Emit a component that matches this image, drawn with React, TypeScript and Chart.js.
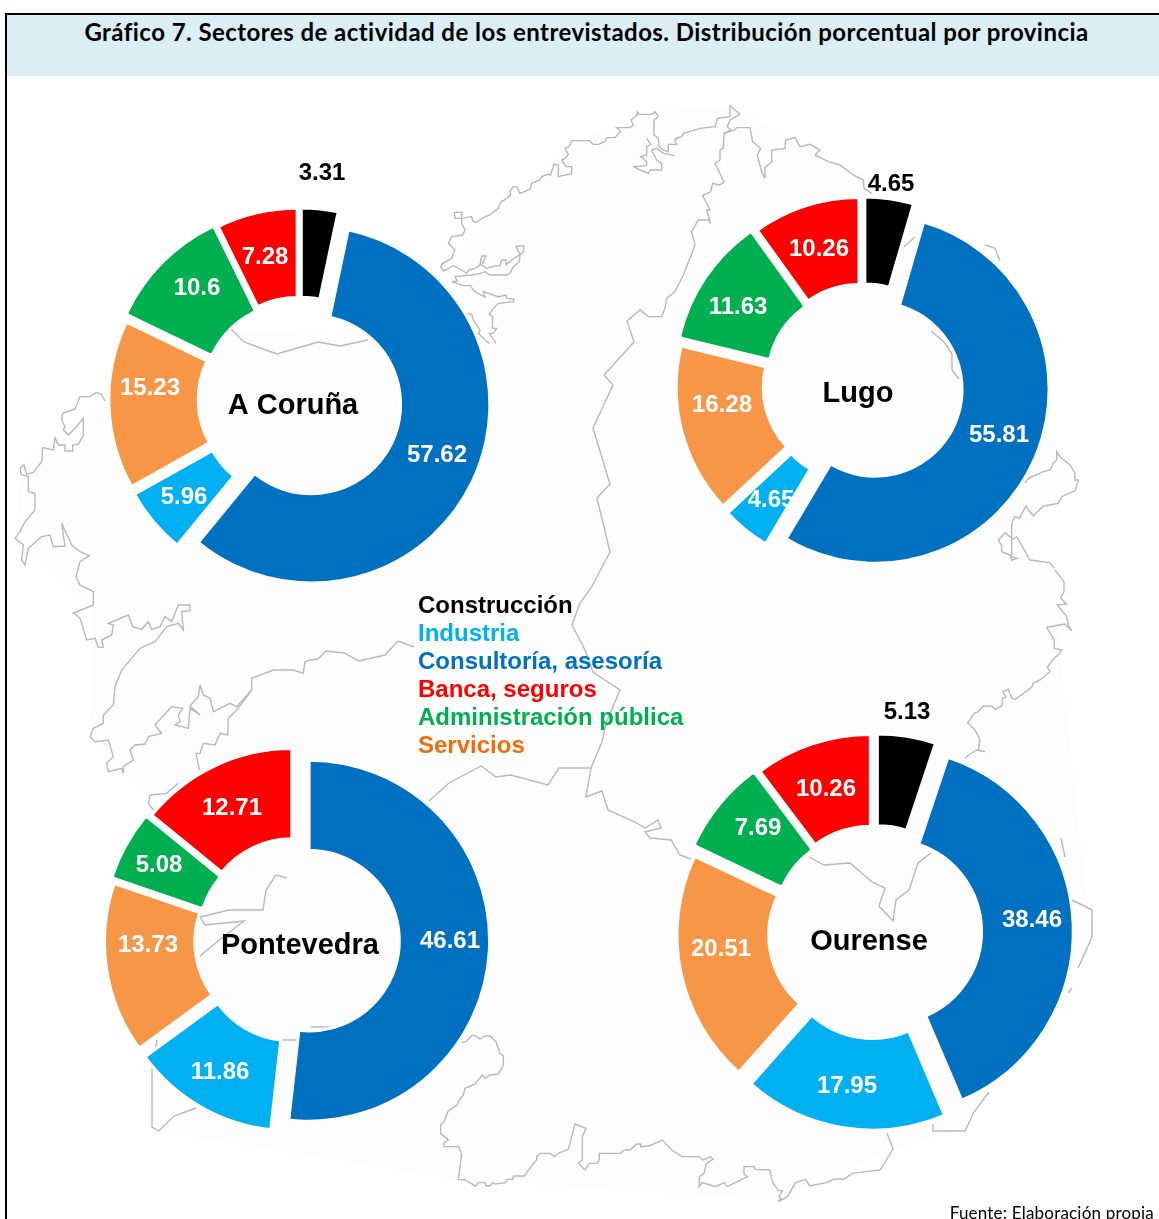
import React, { useEffect, useRef } from "react";
import { Chart, registerables } from "chart.js";

Chart.register(...registerables);

const categories = ["Construcción", "Consultoría, asesoría", "Industria", "Servicios", "Administración pública", "Banca, seguros"];
const coruna = [3.31, 57.62, 5.96, 15.23, 10.6, 7.28];
const lugo = [4.65, 55.81, 4.65, 16.28, 11.63, 10.26];
const pontevedra = [0, 46.61, 11.86, 13.73, 5.08, 12.71];
const ourense = [5.13, 38.46, 17.95, 20.51, 7.69, 10.26];

const sliceColors = ["#000000", "#0070C0", "#00B0F0", "#F79646", "#00B050", "#FF0000"];
const sliceBorders = ["#FFFFFF", "#FFFFFF", "#FFFFFF", "#FFFFFF", "#00B050", "#FFFFFF"];
const labelColors = ["#000000", "#FFFFFF", "#FFFFFF", "#FFFFFF", "#FFFFFF", "#FFFFFF"];
const legendOrder = [
  ["Construcción", "#000000"],
  ["Industria", "#00B0F0"],
  ["Consultoría, asesoría", "#0070C0"],
  ["Banca, seguros", "#FF0000"],
  ["Administración pública", "#00B050"],
  ["Servicios", "#F36C0A"],
];

const BOX = 560;
const panels = [
  { name: "A Coruña", values: coruna, cx: 300, cy: 399, r: 178.5, shift: 12.6, title: [293, 406],
    labels: [[322, 173], [437, 455], [184, 497], [150, 388], [197, 288], [265, 257]] },
  { name: "Lugo", values: lugo, cx: 863, cy: 384, r: 174, shift: 13.2, title: [858, 394],
    labels: [[891, 184], [999, 435], [771, 500], [722, 405], [738, 307], [819, 249]] },
  { name: "Pontevedra", values: pontevedra, cx: 297, cy: 940, r: 180.5, shift: 12.1, title: [300, 946],
    labels: [[0, 0], [450, 941], [220, 1072], [148, 945], [159, 865], [232, 808]] },
  { name: "Ourense", values: ourense, cx: 875, cy: 932, r: 183.5, shift: 14.8, title: [869, 942],
    labels: [[907, 712], [1032, 920], [847, 1086], [721, 949], [758, 828], [826, 789]] },
];

// Decorative background: outline of the provinces, traced by eye from 3x crops.
const zoomed = (ox: number, oy: number, pts: number[][]) => pts.map(([x, y]) => [ox + x / 3, oy + y / 3]);

const mapLines: number[][][] = [
  zoomed(430, 95, [[685,65],[675,50],[665,58],[625,58],[622,48],[620,62],[603,75],[610,90],[600,98],[560,98],[572,108],[555,128],[530,128],[525,140],[505,148],[490,148],[478,137],[425,137],[417,155],[405,160],[415,178],[405,190],[395,195],[408,215],[425,215],[425,235],[385,245],[385,210],[372,207],[362,240],[352,238],[335,245],[330,255],[305,265],[300,283],[270,295],[260,275],[250,275],[240,288],[242,300],[230,310],[212,322],[205,340],[180,360],[160,368],[138,382],[128,378],[125,365],[95,370],[75,370],[73,352],[95,352],[95,385],[105,405],[98,420],[65,425],[55,445],[75,465],[65,490],[38,505],[32,515],[40,528],[70,512],[95,525],[110,535],[115,525],[135,520],[150,510],[155,483],[168,483],[155,510],[170,520],[195,513],[210,512],[215,495],[228,495],[228,510],[245,495],[270,478],[258,455],[282,452],[280,472],[270,478],[268,500],[250,515],[240,535],[230,540],[180,540],[165,530],[150,535],[125,540],[75,545],[82,558],[65,560],[100,572],[120,572],[135,590],[165,607],[160,590],[205,605],[228,600],[230,610],[252,612],[250,620],[205,625],[190,640],[178,658],[188,665],[187,700],[200,700],[190,715],[178,715],[198,745]]),
  zoomed(430, 95, [[112,657],[125,658],[130,675],[150,705],[145,715],[165,735],[178,745]]),
  zoomed(430, 95, [[685,65],[672,75],[672,120],[685,130],[687,155],[700,165],[715,170],[715,148],[740,148],[735,135],[745,128],[750,128]]),
  zoomed(430, 95, [[650,130],[662,148],[650,155],[650,180],[632,185],[650,200],[650,212],[612,215],[630,225],[655,235],[660,225],[670,225],[695,225],[695,205],[680,195],[665,165],[680,160],[700,175],[735,182]]),
  zoomed(640, 95, [[105,130],[125,125],[130,115],[180,100],[225,95],[232,70],[270,65],[270,32],[300,58],[270,75],[262,95],[272,105],[252,115],[250,160],[240,165],[240,195],[225,205],[240,235],[252,262],[238,270],[218,265],[212,290],[188,302],[210,345],[200,345],[212,385],[205,375],[175,375],[155,410],[165,450],[150,490],[130,540],[105,590],[80,610],[75,640],[65,665],[25,665],[0,645]]).concat([[627,321],[634,342],[604,375],[613,385],[593,428],[610,484],[597,498],[610,552],[591,588],[580,603],[572,625],[585,650],[593,672],[620,690],[606,723],[602,742],[591,768],[580,768],[559,768],[548,785],[511,775],[496,777],[481,766],[449,783],[429,801]]),
  zoomed(640, 95, [[252,115],[285,105],[290,98],[330,98],[338,140],[362,160],[352,180],[365,230],[375,250],[375,218],[395,200],[395,165],[435,160],[437,135],[465,128],[480,155],[510,148],[540,165],[525,180],[565,200],[600,210],[640,240],[670,255],[672,280],[695,295]]),
  [[904,247],[915,237]],
  [[985,245],[995,248],[1000,261]],
  zoomed(960, 440, [[195,130],[205,115],[250,95],[270,90],[280,68],[290,60],[290,35],[300,50],[330,75],[345,100],[345,120],[355,120],[345,152],[305,170],[295,190],[250,198],[220,228],[205,210],[198,198],[178,235],[165,230],[155,250],[155,295],[135,278],[115,300],[125,318],[125,335],[150,345],[155,360],[170,355],[155,350],[155,300],[170,290],[190,325],[210,360],[270,368],[283,385]]),
  zoomed(920, 570, [[405,0],[432,35],[432,65],[422,85],[440,102],[412,105],[440,140],[445,165],[455,183],[435,162],[380,172],[402,210],[403,235],[425,240],[415,255],[405,262],[382,292],[390,305],[360,330],[340,340],[335,352],[285,388],[275,385],[265,358],[248,365],[258,380],[248,385],[245,408],[225,418],[215,408],[190,408],[175,425],[163,430],[143,458],[165,480],[180,510],[175,540],[195,545],[170,540],[150,552],[135,565]]),
  [[1061,838],[1065,857]],
  [[1072,900],[1092,910],[1092,937],[1078,968]],
  [[1068,993],[1072,988]],
  [[989,1092],[974,1112],[965,1131],[933,1131],[933,1124]],
  zoomed(430, 1000, [[95,127],[108,125],[125,107],[135,107],[150,117],[165,108],[180,108],[198,125],[210,160],[220,168],[220,195],[205,222],[180,225],[165,235],[157,225],[135,252],[105,265],[100,285],[85,305],[82,315],[55,332],[42,365],[32,375],[32,400],[55,420],[42,428],[42,440],[85,440],[95,462],[85,538],[105,540],[137,558],[145,548],[165,548],[168,558],[180,558],[188,548],[195,552],[228,548],[230,538],[248,538],[250,528],[283,528],[310,490],[320,480],[320,470],[332,460],[360,460],[373,470],[385,460],[415,448],[435,372],[468,385],[457,410],[457,480],[445,490],[465,510],[478,490],[500,490],[508,480],[508,460],[572,460],[582,450],[600,450],[620,432],[632,432],[632,440],[657,438]]),
  zoomed(649, 1000, [[0,438],[40,420],[68,450],[100,470],[150,470],[162,480],[185,470],[192,478],[172,490],[165,520],[152,530],[150,560],[160,548],[200,560],[225,548],[235,560],[295,530],[285,522],[285,500],[315,500],[320,508],[362,510],[370,545],[388,572],[400,572],[390,590],[395,595],[388,605],[415,590],[430,565],[440,548],[470,538],[482,558],[532,548],[555,537],[585,537],[610,520],[650,515]]).concat([[880,1170],[893,1149],[887,1133]]),
  [[809,857],[824,865],[850,863],[872,882],[885,888],[879,906],[893,921],[896,900],[909,890],[918,863],[931,853]],
  [[591,768],[586,797],[602,791],[608,810],[635,822],[645,828],[658,820],[661,828],[645,832],[650,838],[671,840],[680,855],[691,859]],
  zoomed(0, 385, [[315,48],[305,30],[290,22],[270,35],[240,35],[225,72],[188,85],[185,105],[195,125],[190,135],[205,150],[225,130],[250,100],[250,150],[235,178],[218,180],[218,198],[195,198],[195,180],[175,180],[165,158],[160,195],[128,188],[125,230],[100,262],[80,268],[72,240],[62,248],[62,268],[85,275],[85,320],[105,325],[105,375],[75,410],[60,440],[45,460],[70,480],[65,525],[75,540],[85,490],[125,455],[150,450],[160,485],[195,483],[185,415],[215,480],[240,500],[268,512],[240,530],[228,575],[240,600],[280,620],[280,660],[218,685]]),
  zoomed(60, 590, [[40,68],[60,85],[80,150],[105,145],[115,172],[130,172],[125,150],[155,135],[160,105],[145,100],[205,75],[218,110],[245,118],[265,95],[275,118],[300,110],[315,80],[335,95],[355,45],[390,45],[390,62],[365,65],[370,120],[355,100],[320,110],[285,155],[240,175],[215,205],[185,240],[165,290],[160,345],[130,375],[130,400],[100,415],[90,440],[105,455],[145,450],[160,500],[140,520],[145,545],[185,535],[190,550],[190,530],[220,510],[210,480],[225,465],[255,462],[265,440],[305,430],[285,405],[335,350],[368,355],[355,375],[360,395],[345,405],[385,415],[390,355],[420,375],[390,348],[415,320],[420,285],[430,315],[450,325],[460,365],[510,340],[530,350],[575,300],[575,265],[640,240],[700,240],[730,250],[735,215],[750,210]]).concat([[318,659],[326,651],[344,653],[359,661],[385,655],[398,641],[414,647]]),
  zoomed(60, 590, [[575,300],[530,360],[505,385],[503,435],[480,430],[465,465],[430,460],[420,490],[408,490],[418,540]]),
  zoomed(60, 590, [[355,580],[320,610],[270,615],[265,640],[280,660]]),
  [[231,329],[244,342],[277,354],[318,342],[340,346],[368,340]],
  [[931,331],[944,342],[952,354],[952,370],[959,379]],
  [[287,878],[276,875],[266,890],[263,910],[229,910],[200,917],[205,925],[244,921],[218,941],[200,956]],
  [[281,1040],[296,1040]],
  [[311,1027],[333,1027]],
  [[157,1040],[152,1069],[152,1127],[159,1131],[174,1116],[196,1108]],
];

const mapFill = "M105,401 L20,465 L15,539 L92,610 L90,736 L122,773 L160,800 L150,1130 L460,1180 L780,1200 L890,1150 L960,1130 L1090,930 L1060,650 L1060,570 L1010,540 L1078,480 L1057,453 L1000,261 L870,190 L735,106 L640,112 L560,150 L440,268 L500,345 L230,330 Z";

function Panel({ p }: { p: (typeof panels)[number] }) {
  const ref = useRef<HTMLCanvasElement>(null);
  useEffect(() => {
    const left = p.cx - BOX / 2;
    const top = p.cy - BOX / 2;
    const chart = new Chart(ref.current!, {
      type: "doughnut",
      data: {
        labels: categories,
        datasets: [{
          data: p.values,
          backgroundColor: sliceColors,
          borderColor: sliceBorders,
          borderWidth: 3,
          borderJoinStyle: "round",
        }],
      },
      options: {
        animation: false,
        responsive: false,
        radius: p.r,
        cutout: "50%",
        plugins: { legend: { display: false }, tooltip: { enabled: false } },
      },
      plugins: [{
        id: "sliceText",
        afterDatasetsUpdate(c: any) {
          // Explode every slice by the same distance along its own mid-angle.
          c.getDatasetMeta(0).data.forEach((arc: any) => {
            const mid = (arc.startAngle + arc.endAngle) / 2;
            arc.x += Math.cos(mid) * p.shift;
            arc.y += Math.sin(mid) * p.shift;
          });
        },
        afterDatasetsDraw(c: any) {
          const ctx = c.ctx;
          ctx.save();
          ctx.textAlign = "center";
          ctx.textBaseline = "middle";
          ctx.font = 'bold 24px "Liberation Sans"';
          p.values.forEach((v, i) => {
            if (!v) return;
            ctx.fillStyle = labelColors[i];
            ctx.fillText(String(v), p.labels[i][0] - left, p.labels[i][1] - top);
          });
          ctx.fillStyle = "#000000";
          ctx.font = 'bold 29px "Liberation Sans"';
          ctx.fillText(p.name, p.title[0] - left, p.title[1] - top);
          ctx.restore();
        },
      }],
    } as any);
    return () => chart.destroy();
  }, [p]);
  return (
    <canvas
      ref={ref}
      width={BOX}
      height={BOX}
      style={{ position: "absolute", left: p.cx - BOX / 2, top: p.cy - BOX / 2, width: BOX, height: BOX }}
    />
  );
}

export default function App() {
  useEffect(() => {
    document.body.style.margin = "0";
  }, []);
  return (
    <div style={{ position: "absolute", left: 0, top: 0, width: 1159, height: 1219, overflow: "hidden", background: "#FFFFFF" }}>
      <div style={{ position: "absolute", left: 5, top: 13, width: 1154, height: 2, background: "#000" }} />
      <div style={{ position: "absolute", left: 5, top: 13, width: 2, height: 1206, background: "#000" }} />
      <div style={{ position: "absolute", left: 7, top: 15, width: 1152, height: 61, background: "#DAEEF3" }} />
      <div style={{ position: "absolute", left: 7, top: 17, width: 1159, textAlign: "center", whiteSpace: "nowrap", font: 'bold 24px Lato', letterSpacing: "0.45px", color: "#000", lineHeight: "30px" }}>
        Gráfico 7. Sectores de actividad de los entrevistados. Distribución porcentual por provincia
      </div>
      <svg width={1159} height={1219} style={{ position: "absolute", left: 0, top: 0 }}>
        <path d={mapFill} fill="#FDFDFD" stroke="none" />
        {mapLines.map((l, i) => (
          <polyline key={i} points={l.map((q) => q.join(",")).join(" ")} fill="none" stroke="#B8B8B8" strokeWidth={1.4} />
        ))}
      </svg>
      {panels.map((p) => <Panel key={p.name} p={p} />)}
      <div style={{ position: "absolute", left: 418, top: 591, font: 'bold 24px "Liberation Sans"', lineHeight: "28px", whiteSpace: "nowrap" }}>
        {legendOrder.map(([t, c]) => <div key={t} style={{ color: c }}>{t}</div>)}
      </div>
      <div style={{ position: "absolute", right: 5, top: 1202, font: '17px Lato', letterSpacing: "0.2px", color: "#000", whiteSpace: "nowrap" }}>
        Fuente: Elaboración propia
      </div>
    </div>
  );
}
